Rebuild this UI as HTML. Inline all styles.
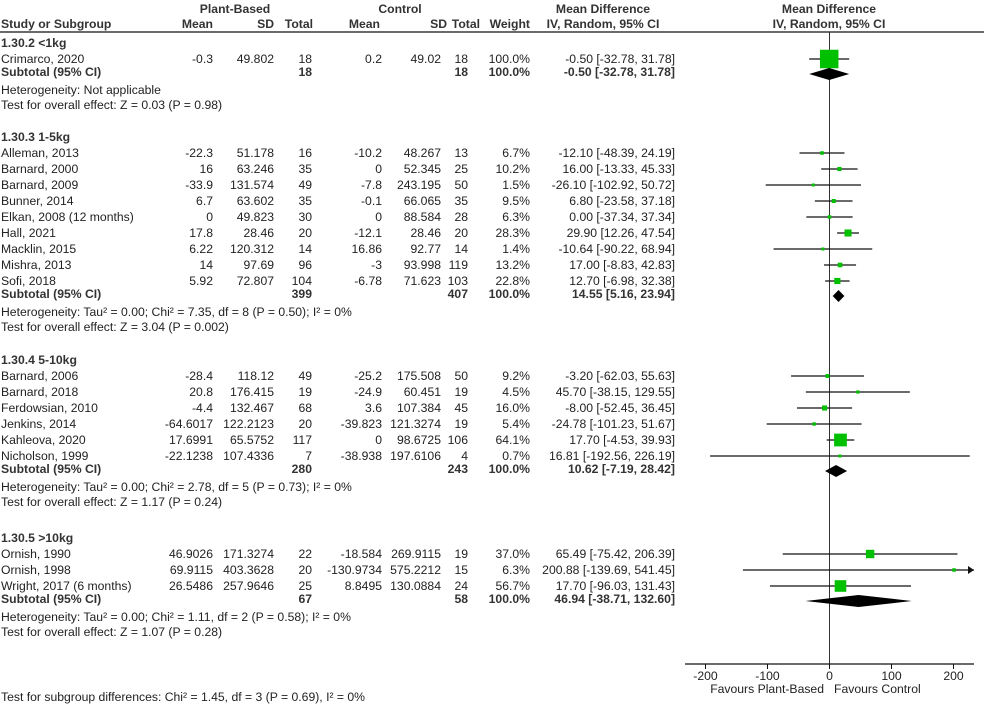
<!DOCTYPE html>
<html><head><meta charset="utf-8">
<style>
html,body{margin:0;padding:0;background:#fff;}
svg{display:block;font-family:"Liberation Sans",Arial,sans-serif;}
text{font-size:12.2px;fill:#222;}
.b{font-weight:bold;fill:#333;}
</style></head>
<body>
<svg id="chart" width="984" height="704" viewBox="0 0 984 704" xmlns="http://www.w3.org/2000/svg"></svg>
<script>
// ---- data ----
const groupTitles = ["1.30.2 <1kg","1.30.3 1-5kg","1.30.4 5-10kg","1.30.5 >10kg"];
const groupHet = ["Heterogeneity: Not applicable",
 "Heterogeneity: Tau\u00b2 = 0.00; Chi\u00b2 = 7.35, df = 8 (P = 0.50); I\u00b2 = 0%",
 "Heterogeneity: Tau\u00b2 = 0.00; Chi\u00b2 = 2.78, df = 5 (P = 0.73); I\u00b2 = 0%",
 "Heterogeneity: Tau\u00b2 = 0.00; Chi\u00b2 = 1.11, df = 2 (P = 0.58); I\u00b2 = 0%"];
const groupTest = ["Test for overall effect: Z = 0.03 (P = 0.98)","Test for overall effect: Z = 3.04 (P = 0.002)",
 "Test for overall effect: Z = 1.17 (P = 0.24)","Test for overall effect: Z = 1.07 (P = 0.28)"];
const groupPN = [18,399,280,67];
const groupCN = [18,407,243,58];
const groupMD = [-0.50,14.55,10.62,46.94];
const groupLo = [-32.78,5.16,-7.19,-38.71];
const groupHi = [31.78,23.94,28.42,132.60];
const studyGroup = [0,1,1,1,1,1,1,1,1,1,2,2,2,2,2,2,3,3,3];
const studyNames = ["Crimarco, 2020","Alleman, 2013","Barnard, 2000","Barnard, 2009","Bunner, 2014","Elkan, 2008 (12 months)","Hall, 2021","Macklin, 2015","Mishra, 2013","Sofi, 2018","Barnard, 2006","Barnard, 2018","Ferdowsian, 2010","Jenkins, 2014","Kahleova, 2020","Nicholson, 1999","Ornish, 1990","Ornish, 1998","Wright, 2017 (6 months)"];
const pMean = ["-0.3","-22.3","16","-33.9","6.7","0","17.8","6.22","14","5.92","-28.4","20.8","-4.4","-64.6017","17.6991","-22.1238","46.9026","69.9115","26.5486"];
const pSD = ["49.802","51.178","63.246","131.574","63.602","49.823","28.46","120.312","97.69","72.807","118.12","176.415","132.467","122.2123","65.5752","107.4336","171.3274","403.3628","257.9646"];
const pN = [18,16,35,49,35,30,20,14,96,104,49,19,68,20,117,7,22,20,25];
const cMean = ["0.2","-10.2","0","-7.8","-0.1","0","-12.1","16.86","-3","-6.78","-25.2","-24.9","3.6","-39.823","0","-38.938","-18.584","-130.9734","8.8495"];
const cSD = ["49.02","48.267","52.345","243.195","66.065","88.584","28.46","92.77","93.998","71.623","175.508","60.451","107.384","121.3274","98.6725","197.6106","269.9115","575.2212","130.0884"];
const cN = [18,13,25,50,35,28,20,14,119,103,50,19,45,19,106,4,19,15,24];
const weights = [100.0,6.7,10.2,1.5,9.5,6.3,28.3,1.4,13.2,22.8,9.2,4.5,16.0,5.4,64.1,0.7,37.0,6.3,56.7];
const md = [-0.50,-12.10,16.00,-26.10,6.80,0.00,29.90,-10.64,17.00,12.70,-3.20,45.70,-8.00,-24.78,17.70,16.81,65.49,200.88,17.70];
const lo = [-32.78,-48.39,-13.33,-102.92,-23.58,-37.34,12.26,-90.22,-8.83,-6.98,-62.03,-38.15,-52.45,-101.23,-4.53,-192.56,-75.42,-139.69,-96.03];
const hi = [31.78,24.19,45.33,50.72,37.18,37.34,47.54,68.94,42.83,32.38,55.63,129.55,36.45,51.67,39.93,226.19,206.39,541.45,131.43];
const xTicks = [-200,-100,0,100,200];

// ---- layout ----
const svg = document.getElementById('chart');
const NS = 'http://www.w3.org/2000/svg';
const X0 = 829.5, SCALE = 0.62, XMIN = 685, XMAX = 974, AXY = 664;
function xs(v){ return X0 + v*SCALE; }
function mk(tag, attrs, txt){
  const e = document.createElementNS(NS, tag);
  for (const k in attrs) e.setAttribute(k, attrs[k]);
  if (txt !== undefined) e.textContent = txt;
  svg.appendChild(e); return e;
}
function txt(x,y,s,anchor,cls){
  const a = {x:x,y:y};
  if (anchor) a['text-anchor']=anchor;
  if (cls) a['class']=cls;
  return mk('text',a,s);
}
function fmt(v){ return v.toFixed(2); }
function ciStr(m,l,h){ return fmt(m)+' ['+fmt(l)+', '+fmt(h)+']'; }

let e;
e = txt(235,13,'Plant-Based','middle','b');  
e = txt(400,13,'Control','middle','b');  
e = txt(603,13,'Mean Difference','middle','b');  
e = txt(603,28,'IV, Random, 95% CI','middle','b');  
e = txt(829,13,'Mean Difference','middle','b');  
e = txt(829,28,'IV, Random, 95% CI','middle','b');  
const colHdr = [[1,'Study or Subgroup','start'],[213,'Mean','end'],[274,'SD','end'],[313,'Total','end'],[380,'Mean','end'],[447,'SD','end'],[480,'Total','end'],[530,'Weight','end']];
colHdr.forEach(c=>{ const t=txt(c[0],28,c[1],c[2],'b');   });
e = mk('line',{x1:0,y1:32,x2:984,y2:32,stroke:'#111','stroke-width':1.3});
 

e = mk('line',{x1:xs(0),y1:32,x2:xs(0),y2:AXY,stroke:'#333','stroke-width':1});
 

const groupStartY = [43,137,360,538];
for (let g=0; g<groupTitles.length; g++){
  const gy = groupStartY[g];
  e = txt(1,gy+4,groupTitles[g],'start','b');  
  let k=0, lastY=gy;
  for (let i=0;i<studyNames.length;i++){
    if (studyGroup[i]!==g) continue;
    k++;
    const y = gy + 16*k; lastY=y;
    const ty = y+4;
    e = txt(1,ty,studyNames[i]);  
    e = txt(213,ty,pMean[i],'end');  
    e = txt(274,ty,pSD[i],'end');  
    e = txt(312,ty,String(pN[i]),'end');  
    e = txt(382,ty,cMean[i],'end');  
    e = txt(441,ty,cSD[i],'end');  
    e = txt(468,ty,String(cN[i]),'end');  
    e = txt(530,ty,weights[i].toFixed(1)+'%','end');  
    e = txt(675,ty,ciStr(md[i],lo[i],hi[i]),'end');  
    const x1 = Math.max(xs(lo[i]),XMIN), x2v = xs(hi[i]);
    const x2 = Math.min(x2v, XMAX);
    e = mk('line',{x1:x1,y1:y,x2:x2,y2:y,stroke:'#111','stroke-width':1.2});
     
    if (x2v > XMAX){
      e = mk('polygon',{points:(XMAX-6)+','+(y-4)+' '+XMAX+','+y+' '+(XMAX-6)+','+(y+4),fill:'#111'});
       
    }
    const s = Math.max(3, 2.5+16*weights[i]/100);
    e = mk('rect',{x:xs(md[i])-s/2,y:y-s/2,width:s,height:s,fill:'#00c000'});
     
  }
  const sy = lastY+13;
  e = txt(1,sy+4,'Subtotal (95% CI)','start','b');  
  e = txt(312,sy+4,String(groupPN[g]),'end','b');  
  e = txt(468,sy+4,String(groupCN[g]),'end','b');  
  e = txt(530,sy+4,'100.0%','end','b');  
  e = txt(675,sy+4,ciStr(groupMD[g],groupLo[g],groupHi[g]),'end','b');  
  const dy = lastY+15;
  e = mk('polygon',{points:xs(groupLo[g])+','+dy+' '+xs(groupMD[g])+','+(dy-6)+' '+xs(groupHi[g])+','+dy+' '+xs(groupMD[g])+','+(dy+6),fill:'#000'});
   
  e = txt(1,sy+22,groupHet[g]);  
  e = txt(1,sy+37,groupTest[g]);  
}

e = mk('line',{x1:XMIN,y1:AXY,x2:XMAX,y2:AXY,stroke:'#111','stroke-width':1.2});
 
xTicks.forEach(v=>{
  const t = mk('line',{x1:xs(v),y1:AXY,x2:xs(v),y2:AXY+5,stroke:'#111','stroke-width':1});
   
  const l = txt(xs(v),AXY+16,String(v),'middle');
   
});
e = txt(824,AXY+29,'Favours Plant-Based','end');  
e = txt(834,AXY+29,'Favours Control','start');  
e = txt(1,701,'Test for subgroup differences: Chi\u00b2 = 1.45, df = 3 (P = 0.69), I\u00b2 = 0%');  
</script>
</body></html>
